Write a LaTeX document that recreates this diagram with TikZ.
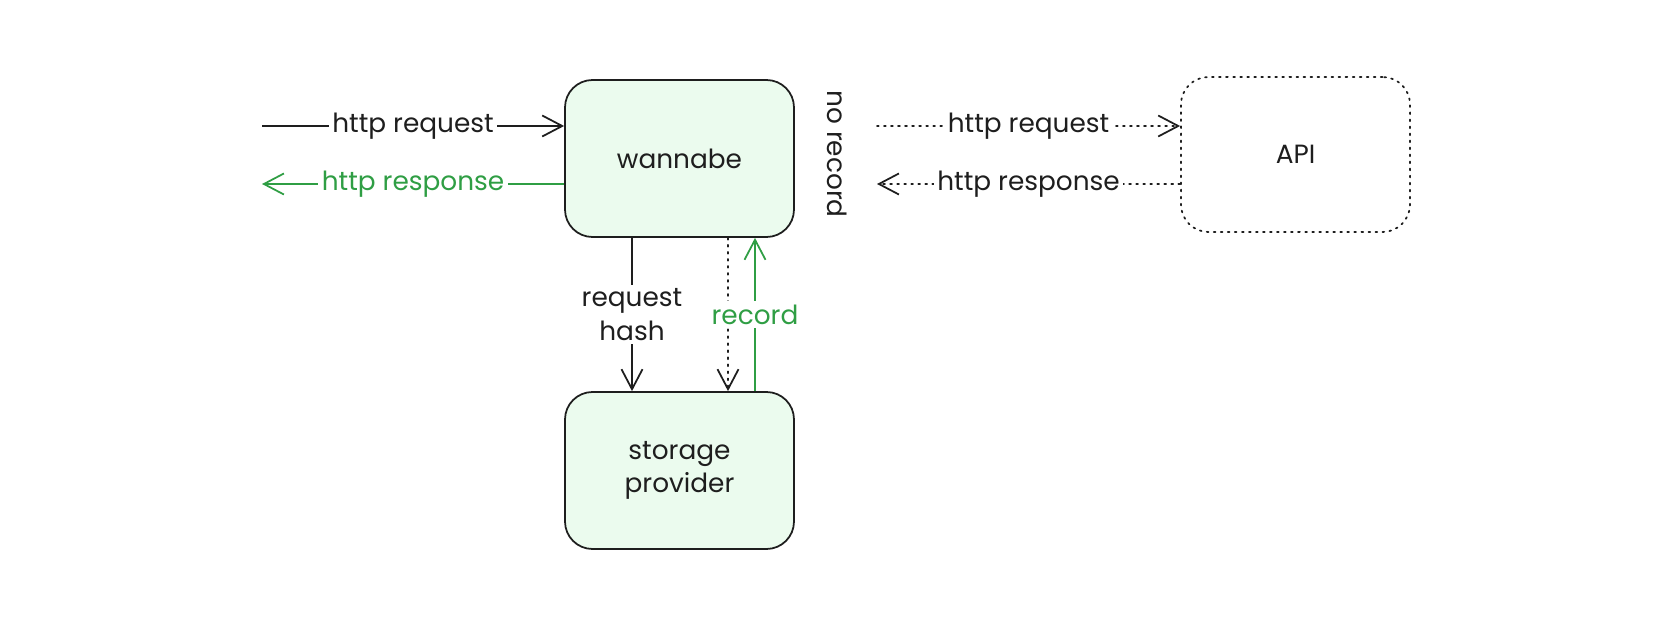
\documentclass[tikz,border=0pt]{standalone}
\usepackage{fontspec}
\setmainfont{Poppins}
\usepackage{xcolor}
\usepackage{tikz}
\usetikzlibrary{arrows.meta,positioning}
\definecolor{ink}{HTML}{1E1E1E}
\definecolor{okgreen}{HTML}{2F9E44}
\definecolor{boxfill}{HTML}{EBFBEE}
\begin{document}
\begin{tikzpicture}[
  font=\fontsize{15}{19}\selectfont, text=ink,
  box/.style={draw=ink, line width=1pt, rounded corners=0.55cm, minimum width=4.58cm, minimum height=3.14cm, align=center, fill=boxfill},
  dotbox/.style={box, fill=none, dash pattern=on 1pt off 3pt, line cap=round},
  arrow/.style={-{Straight Barb[length=4mm,width=4.2mm]}, line width=1pt, draw=ink},
  dotarrow/.style={arrow, dash pattern=on 1pt off 3pt, line cap=round},
  greenarrow/.style={arrow, draw=okgreen},
  lbl/.style={fill=white, inner sep=2pt, align=center}
]
  \useasboundingbox (0,0) rectangle (33.42,-12.48);
  \node[box] (wannabe) at (13.59,-3.17) {wannabe};
  \node[box] (storage) at (13.59,-9.41) {storage\\provider};
  \node[dotbox, minimum height=3.10cm] (api) at (25.91,-3.09) {API};
  \node[rotate=-90] (norec) at (16.74,-3.08) {no record};
  % loose ends
  \coordinate (inL) at (5.24,-2.52);
  \coordinate (outL) at (5.24,-3.68);
  \coordinate (inR) at (17.54,-2.52);
  \coordinate (outR) at (17.54,-3.68);
  % client side
  \draw[arrow] (inL) -- (inL -| wannabe.west) node[lbl, midway] (req1) {http request};
  \draw[greenarrow] (outL -| wannabe.west) -- (outL) node[lbl, midway, text=okgreen] (res1) {http response};
  % api side
  \draw[dotarrow] (inR) -- (inR -| api.west) node[lbl, midway] (req2) {http request};
  \draw[dotarrow] (outR -| api.west) -- (outR) node[lbl, midway] (res2) {http response};
  % storage
  \draw[arrow] ([xshift=-0.95cm]wannabe.south) -- ([xshift=-0.95cm]storage.north) node[lbl, midway] (hash) {request\\hash};
  \draw[dotarrow] ([xshift=0.97cm]wannabe.south) -- ([xshift=0.97cm]storage.north);
  \draw[greenarrow] ([xshift=1.51cm]storage.north) -- ([xshift=1.51cm]wannabe.south) node[lbl, midway, text=okgreen] (rec) {record};
\end{tikzpicture}
\end{document}
